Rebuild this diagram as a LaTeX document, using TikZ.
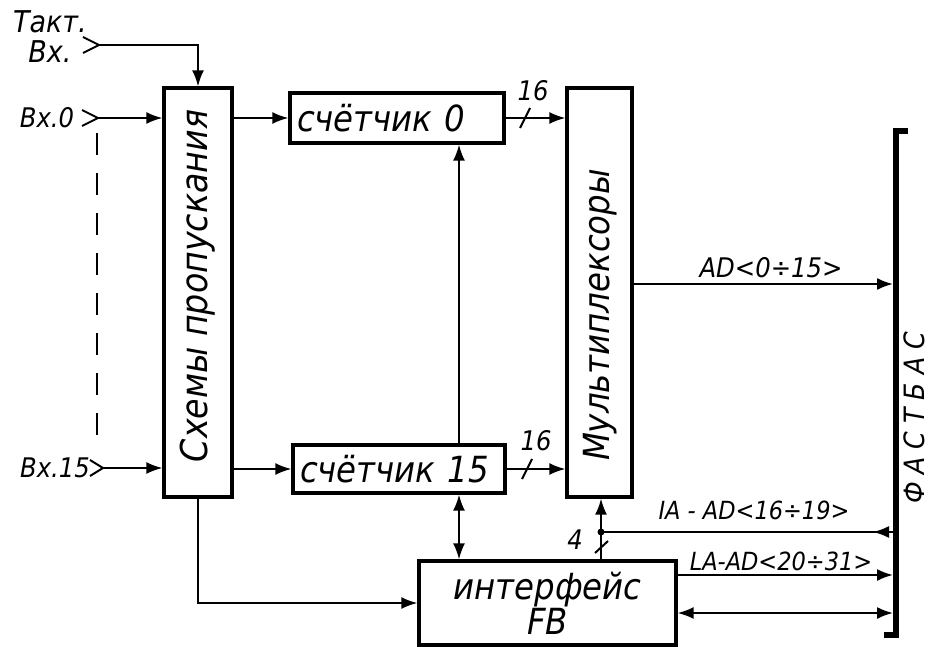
\documentclass[tikz,border=0pt]{standalone}
\usepackage{fontspec}
\setmainfont{DejaVu Sans Condensed}
\usetikzlibrary{arrows.meta,calc}
\begin{document}
\begin{tikzpicture}[x=1pt,y=-1pt,
  box/.style={draw, line width=3.2pt, inner sep=0pt},
  wire/.style={line width=2pt},
  arr/.style={wire, -{Latex[length=16pt,width=12pt]}},
  darr/.style={wire, {Latex[length=16pt,width=12pt]}-{Latex[length=16pt,width=12pt]}},
  txt/.style={font=\itshape\fontsize{#1}{#1}\selectfont, inner sep=0pt},
  lbl/.style={font=\itshape\fontsize{#1}{#1}\selectfont, inner sep=0pt},
]
\useasboundingbox (0,0) rectangle (931,647);

% blocks
\node[box, minimum width=68pt, minimum height=409pt] (sch) at (198,292.5) {};
\node[txt=37, rotate=90] (schT) at (198,286) {Схемы пропускания};

\node[box, minimum width=214pt, minimum height=50pt, text width=200pt, align=left,
      font=\itshape\fontsize{36}{36}\selectfont] (c0) at (397,118) {счётчик 0};
\node[box, minimum width=212pt, minimum height=48pt, text width=198pt, align=left,
      font=\itshape\fontsize{36}{36}\selectfont] (c15) at (399,469) {счётчик 15};

\node[box, minimum width=65pt, minimum height=409pt] (mux) at (599.5,292.5) {};
\node[txt=36, rotate=90] (muxT) at (600,315) {Мультиплексоры};

\node[box, minimum width=257pt, minimum height=84pt, align=center,
      font=\itshape\fontsize{36}{33}\selectfont] (fb) at (547.5,603) {интерфейс\\FB};

% inputs
\node[lbl=30, align=center] (takt) at (50,37) {Такт.\\Вх.};
\coordinate (tin) at (99,45);
\draw[wire] (83,37) -- (tin) -- (83,53);
\draw[arr] (tin) -| (sch.north);

\node[lbl=27] (in0L) at (47,118) {Вх.0};
\coordinate (in0) at (98,118);
\draw[wire] (82,110) -- (in0) -- (82,126);
\draw[arr] (in0) -- (sch.west |- in0);

\node[lbl=27] (in15L) at (55,468) {Вх.15};
\coordinate (in15) at (103,468);
\draw[wire] (90,460) -- (in15) -- (90,476);
\draw[arr] (in15) -- (sch.west |- in15);

\coordinate (dA) at (97,133);
\coordinate (dB) at (97,435);
\draw[wire, dash pattern=on 22pt off 18pt] (dA) -- (dB);

% schemes -> counters
\draw[arr] (sch.east |- c0.west) -- (c0.west);
\draw[arr] (sch.east |- c15.west) -- (c15.west);

% counters -> mux
\draw[arr] (c0.east) -- (mux.west |- c0.east);
\draw[arr] (c15.east) -- (mux.west |- c15.east);
\draw[wire] (520,128) -- (530,108);
\draw[wire] (522,479) -- (532,459);
\node[lbl=27] (n16a) at (533,91) {16};
\node[lbl=27] (n16b) at (536,441) {16};

% vertical link between counters and interface
\coordinate (v) at (459,0);
\draw[arr] (v |- c15.north) -- (v |- c0.south);
\draw[darr] (v |- c15.south) -- (v |- fb.north);

% schemes -> interface
\draw[arr] (sch.south) |- (fb.west);

% interface -> mux
\coordinate (mx) at (601,0);
\coordinate (j) at (601,532);
\draw[arr] (mx |- fb.north) -- (mx |- mux.south);
\fill (j) circle (3.5pt);
\draw[wire] (595,553) -- (608,541);
\node[lbl=27] (n4) at (575,540) {4};

% bus
\coordinate (busT) at (896,131);
\coordinate (busB) at (896,635);
\draw[line width=5.5pt, line join=miter] (908,131) -- (busT) -- (busB) -- (884,635);
\node[lbl=28, rotate=90] (busL) at (914,418) {Ф\kern8ptА\kern8ptС\kern8ptТ\kern8ptБ\kern8ptА\kern8ptС};

\coordinate (b1) at (893,284);
\coordinate (b2) at (893,532);
\coordinate (b3) at (893,575);
\coordinate (b4) at (893,613);

\draw[arr] (mux.east |- b1) -- (b1);
\node[lbl=27] (adL) at (771,268) {AD<0÷15>};

\draw[wire] (j) -- (b2);
\draw[arr] (b2) -- ([xshift=-20pt]b2);
\node[lbl=25] (iaL) at (754,510) {IA - AD<16÷19>};

\draw[arr] (fb.east |- b3) -- (b3);
\node[lbl=25] (laL) at (781,561) {LA-AD<20÷31>};

\draw[darr] (fb.east |- b4) -- (b4);
\end{tikzpicture}
\end{document}
